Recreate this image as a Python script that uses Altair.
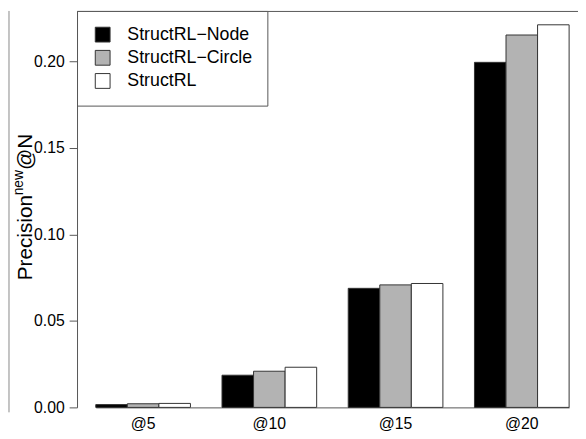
import altair as alt
import pandas as pd

categories = ["@5", "@10", "@15", "@20"]
series = ["StructRL−Node", "StructRL−Circle", "StructRL"]
node_vals = [0.0016, 0.0186, 0.0688, 0.1994]
circle_vals = [0.0021, 0.0209, 0.0708, 0.2152]
full_vals = [0.0023, 0.0232, 0.0716, 0.2211]
fill_colors = ["#000000", "#b3b3b3", "#ffffff"]
y_ticks = [0.0, 0.05, 0.10, 0.15, 0.20]
title_parts = ["Precision", "new", "@N"]

rows = []
for s, vals in zip(series, [node_vals, circle_vals, full_vals]):
    for c, v in zip(categories, vals):
        rows.append({"cat": c, "series": s, "value": v})
df = pd.DataFrame(rows)

W, H = 508, 402
FONT = "Liberation Sans"
LINE = "#555555"

bars = alt.Chart(df).mark_bar(stroke="#333333", strokeWidth=1).encode(
    x=alt.X("cat:N", sort=categories,
            scale=alt.Scale(domain=categories, range=[19, 499], paddingInner=0.25, paddingOuter=0),
            axis=alt.Axis(title=None, labelAngle=0, ticks=False, domain=True, domainColor=LINE,
                          labelFontSize=16, labelFont=FONT, labelColor="black", labelPadding=8)),
    xOffset=alt.XOffset("series:N", sort=series,
                        scale=alt.Scale(domain=series, paddingInner=0, paddingOuter=0)),
    y=alt.Y("value:Q", scale=alt.Scale(domain=[0, 0.2291], nice=False, zero=True),
            axis=alt.Axis(title=None, values=y_ticks, format=".2f", grid=False, tickSize=8,
                          tickColor=LINE, domainColor=LINE, labelFontSize=16, labelFont=FONT,
                          labelColor="black", labelPadding=5)),
    fill=alt.Fill("series:N", sort=series,
                  scale=alt.Scale(domain=series, range=fill_colors),
                  legend=alt.Legend(title=None, orient="none", legendX=0, legendY=0,
                                    symbolType="square", symbolSize=225, symbolStrokeColor="#333333",
                                    symbolStrokeWidth=1, labelFontSize=18, labelFont=FONT,
                                    labelColor="black", labelOffset=16, padding=15, symbolOffset=2,
                                    rowPadding=3.5, strokeColor=LINE, fillColor="white")),
)

one = pd.DataFrame({"t": [""]})
top_rule = alt.Chart(one).mark_rule(color=LINE, strokeWidth=1).encode(
    x=alt.value(0), x2=alt.value(W), y=alt.value(0.5))
side_rule = alt.Chart(one).mark_rule(color="#888888", strokeWidth=1).encode(
    x=alt.value(-69), y=alt.value(0), y2=alt.value(407))

t1 = alt.Chart(pd.DataFrame({"t": [title_parts[0]]})).mark_text(
    angle=270, align="left", baseline="alphabetic", fontSize=21, font=FONT, color="black").encode(
    text="t:N", x=alt.value(-46), y=alt.value(273))
t2 = alt.Chart(pd.DataFrame({"t": [title_parts[1]]})).mark_text(
    angle=270, align="left", baseline="alphabetic", fontSize=14, font=FONT, color="black").encode(
    text="t:N", x=alt.value(-55), y=alt.value(187))
t3 = alt.Chart(pd.DataFrame({"t": [title_parts[2]]})).mark_text(
    angle=270, align="left", baseline="alphabetic", fontSize=21, font=FONT, color="black").encode(
    text="t:N", x=alt.value(-46), y=alt.value(161))

chart = alt.layer(bars, top_rule, side_rule, t1, t2, t3).properties(
    width=W, height=H,
    autosize=alt.AutoSizeParams(type="none"),
    padding={"left": 70, "top": 0, "right": 0, "bottom": 25},
).configure_view(stroke=None)

chart.save("out.html", embed_options={"renderer": "svg", "actions": False})
